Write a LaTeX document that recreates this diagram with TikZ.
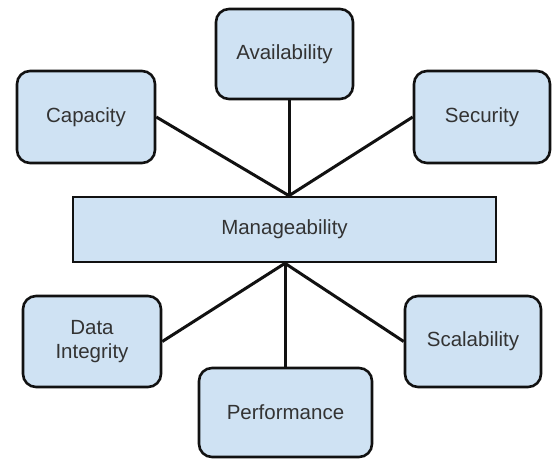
\documentclass[tikz,border=0pt]{standalone}
\usepackage{fontspec}
\setmainfont{Liberation Sans}
\definecolor{boxfill}{HTML}{CFE2F3}
\definecolor{boxtext}{HTML}{333333}
\definecolor{edge}{HTML}{111111}
\begin{document}
\begin{tikzpicture}[x=1pt,y=-1pt,
  topic/.style={draw=edge, line width=2.6pt, fill=boxfill, rounded corners=13pt,
    text=boxtext, font=\fontsize{20.5}{24}\selectfont, align=center, inner sep=0pt},
  hub/.style={draw=edge, line width=2.6pt, fill=boxfill, text=boxtext,
    font=\fontsize{20.5}{24}\selectfont, inner sep=0pt},
  link/.style={draw=edge, line width=3pt}]
\useasboundingbox (0,0) rectangle (558,460);
\node[hub, minimum width=423pt, minimum height=65pt] (manage) at (284.5,229.5) {Manageability};
\node[topic, minimum width=137pt, minimum height=90pt] (avail) at (284.5,54) {Availability};
\node[topic, minimum width=138pt, minimum height=92pt] (cap) at (86,117) {Capacity};
\node[topic, minimum width=136pt, minimum height=92pt] (sec) at (482,117) {Security};
\node[topic, minimum width=138pt, minimum height=91pt] (data) at (92,341.5) {Data\\Integrity};
\node[topic, minimum width=173pt, minimum height=89pt] (perf) at (285.5,412.5) {Performance};
\node[topic, minimum width=136pt, minimum height=91pt] (scal) at (473,341.5) {Scalability};
\coordinate (top) at (manage.north -| 289,0);
\coordinate (bot) at (manage.south -| 285,0);
\begin{scope}[on background layer/.style={}]
\draw[link] (avail.south -| top) -- (top);
\draw[link] (cap.east) -- (top);
\draw[link] (sec.west) -- (top);
\draw[link] (data.east) -- (bot);
\draw[link] (scal.west) -- (bot);
\draw[link] (perf.north -| bot) -- (bot);
\end{scope}
\end{tikzpicture}
\end{document}
